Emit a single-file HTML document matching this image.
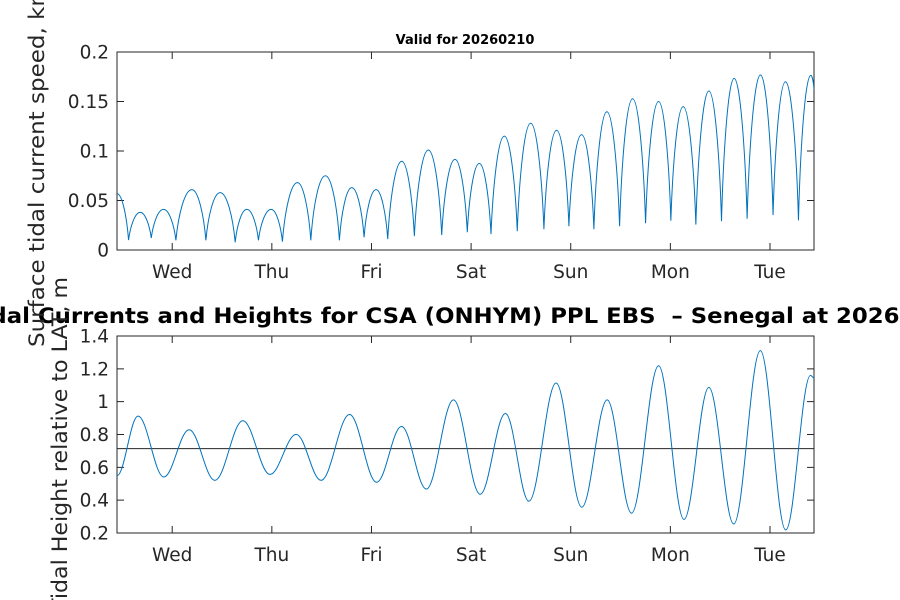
<!DOCTYPE html>
<html><head><meta charset="utf-8"><style>
html,body{margin:0;padding:0;background:#fff;}
svg{display:block;font-family:"DejaVu Sans","Liberation Sans",sans-serif;}
</style></head><body>
<svg id="chart" width="900" height="600" viewBox="0 0 900 600">
<rect x="0" y="0" width="900" height="600" fill="#fff"/>
<g id="top"></g>
<g id="bot"></g>
<text x="465" y="44" text-anchor="middle" font-size="13" font-weight="bold" fill="#000">Valid for 20260210</text>
<text x="465" y="323" text-anchor="middle" font-size="21.5" font-weight="bold" fill="#000" xml:space="preserve" textLength="996" lengthAdjust="spacingAndGlyphs">Tidal Currents and Heights for CSA (ONHYM) PPL EBS  – Senegal at 20260210</text>
<text transform="translate(44,347) rotate(-90)" font-size="21.5" fill="#262626" textLength="355" lengthAdjust="spacingAndGlyphs">Surface tidal current speed, kn</text>
<text transform="translate(67,612) rotate(-90)" font-size="21.5" fill="#262626" textLength="335" lengthAdjust="spacingAndGlyphs">Tidal Height relative to LAT, m</text>
</svg>
<script>
// time in hours relative to Wed 00:00
const dayLabels = ["Wed","Thu","Fri","Sat","Sun","Mon","Tue"];
const dayTicksH = [0,24,48,72,96,120,144];
const speedTicks = [0,0.05,0.1,0.15,0.2];
const speedTickLabels = ["0","0.05","0.1","0.15","0.2"];
const heightTicks = [0.2,0.4,0.6,0.8,1.0,1.2,1.4];
const heightTickLabels = ["0.2","0.4","0.6","0.8","1","1.2","1.4"];
const meanHeight = 0.714;
// extrema of current speed (alternating)
const speedTimes = [-13.3,-10.52,-7.70,-5.05,-2.09,0.89,4.74,8.11,11.55,15.17,17.98,20.77,23.83,26.55,30.16,33.39,36.90,40.27,43.26,46.22,49.11,51.92,55.29,58.33,61.70,64.92,68.12,71.08,73.97,76.79,79.99,83.12,86.34,89.54,92.60,95.56,98.62,101.58,104.71,107.77,110.90,114.03,117.16,120.12,123.08,126.14,129.27,132.32,135.36,138.49,141.71,144.74,147.73,150.86,153.82,154.6];
const speedValues = [0.057,0.010,0.038,0.012,0.041,0.0098,0.061,0.0098,0.058,0.0078,0.041,0.0098,0.041,0.0084,0.068,0.0098,0.075,0.0098,0.063,0.0128,0.061,0.011,0.0896,0.014,0.101,0.015,0.0916,0.018,0.0875,0.016,0.115,0.019,0.128,0.021,0.121,0.024,0.1165,0.021,0.1397,0.024,0.1528,0.027,0.150,0.0296,0.1448,0.0256,0.1606,0.029,0.1734,0.0316,0.1768,0.0353,0.170,0.030,0.1764,0.162];
// extrema of tidal height (alternating)
const heightTimes = [-13.3,-8.23,-2.02,4.07,10.28,17.02,23.56,29.87,35.86,42.72,49.25,55.24,61.23,67.76,74.18,80.27,85.93,92.48,98.66,104.78,110.65,117.17,123.28,129.28,135.27,141.68,147.79,153.76,154.6];
const heightValues = [0.549,0.912,0.541,0.829,0.521,0.884,0.557,0.801,0.521,0.922,0.509,0.849,0.468,1.011,0.436,0.928,0.394,1.114,0.357,1.011,0.321,1.219,0.283,1.087,0.255,1.311,0.218,1.160,1.144];

const NS="http://www.w3.org/2000/svg";
const X0=117,X1=814,T0=-13.3,T1=154.6;
const xS=t=>X0+(t-T0)/(T1-T0)*(X1-X0);
const ySpeed=v=>250-(v-0)/(0.2-0)*198;
const yHeight=v=>533-(v-0.2)/(1.4-0.2)*197;
function mk(tag,attrs,parent){const e=document.createElementNS(NS,tag);for(const k in attrs)e.setAttribute(k,attrs[k]);parent.appendChild(e);return e;}

function axes(g,top,bot,ticks,labels,yf,prefix){
  const box=mk('rect',{x:X0,y:top,width:X1-X0,height:bot-top,fill:'#fff',stroke:'#262626','stroke-width':1},g);
  
  
  ticks.forEach((v,i)=>{
    const y=yf(v);
    const tl=mk('path',{d:`M${X0},${y}H${X0+7}M${X1},${y}H${X1-7}`,stroke:'#262626','stroke-width':1},g);
    
    
    const tx=mk('text',{x:X0-8,y:y+6.5,'text-anchor':'end','font-size':18.5,fill:'#262626'},g);
    tx.textContent=labels[i];
    
    
  });
  dayTicksH.forEach((h,i)=>{
    const x=xS(h);
    const tl=mk('path',{d:`M${x},${bot}V${bot-7}M${x},${top}V${top+7}`,stroke:'#262626','stroke-width':1},g);
    
    
    const tx=mk('text',{x:x,y:bot+28,'text-anchor':'middle','font-size':18.5,fill:'#262626'},g);
    tx.textContent=dayLabels[i];
    
    
  });
}
function curvePath(ts,vs,yf,cusp){
  let d=`M${xS(ts[0])},${yf(vs[0])}`;
  for(let i=1;i<ts.length;i++){
    const x0=xS(ts[i-1]),y0=yf(vs[i-1]),x1=xS(ts[i]),y1=yf(vs[i]);
    const dx=x1-x0;
    if(cusp){
      if(vs[i]>vs[i-1]) d+=`C${x0+dx*0.15},${y0+(y1-y0)*0.5} ${x1-dx*0.45},${y1} ${x1},${y1}`;
      else d+=`C${x0+dx*0.45},${y0} ${x1-dx*0.15},${y1+(y0-y1)*0.5} ${x1},${y1}`;
    } else {
      d+=`C${x0+dx*0.3642},${y0} ${x1-dx*0.3642},${y1} ${x1},${y1}`;
    }
  }
  return d;
}
const gt=document.getElementById('top'),gb=document.getElementById('bot');
axes(gt,52,250,speedTicks,speedTickLabels,ySpeed,'speed');
axes(gb,336,533,heightTicks,heightTickLabels,yHeight,'height');
const clipT=mk('clipPath',{id:'ct'},gt);mk('rect',{x:X0,y:40,width:X1-X0,height:220},clipT);
const clipB=mk('clipPath',{id:'cb'},gb);mk('rect',{x:X0,y:330,width:X1-X0,height:210},clipB);
const sp=mk('path',{d:curvePath(speedTimes,speedValues,ySpeed,true),fill:'none',stroke:'#0072BD','stroke-width':1,'clip-path':'url(#ct)'},gt);


const ml=mk('line',{x1:X0,x2:X1,y1:yHeight(meanHeight),y2:yHeight(meanHeight),stroke:'#262626','stroke-width':1},gb);


const hp=mk('path',{d:curvePath(heightTimes,heightValues,yHeight,false),fill:'none',stroke:'#0072BD','stroke-width':1,'clip-path':'url(#cb)'},gb);


</script>
</body></html>
